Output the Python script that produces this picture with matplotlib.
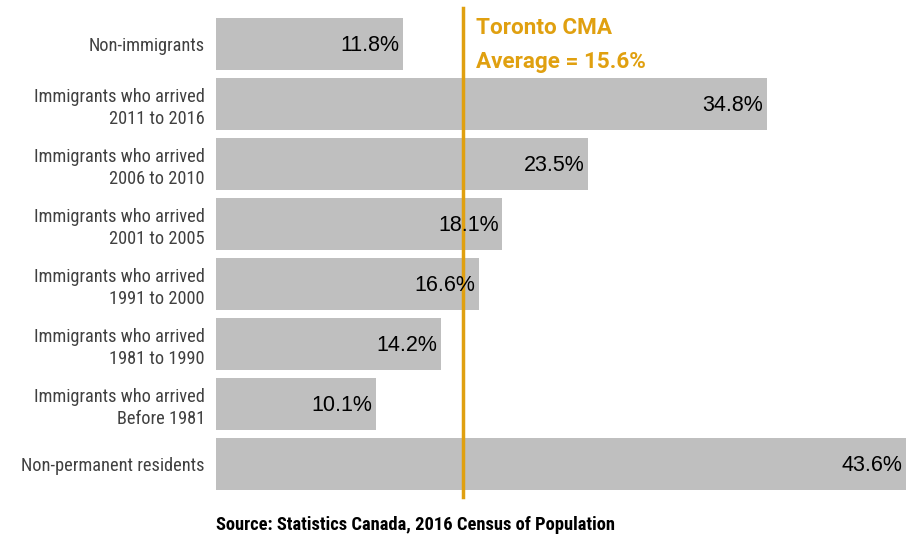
import matplotlib.pyplot as plt

# data
categories = ['Non-immigrants',
              'Immigrants who arrived\n2011 to 2016',
              'Immigrants who arrived\n2006 to 2010',
              'Immigrants who arrived\n2001 to 2005',
              'Immigrants who arrived\n1991 to 2000',
              'Immigrants who arrived\n1981 to 1990',
              'Immigrants who arrived\nBefore 1981',
              'Non-permanent residents']
values = [11.8, 34.8, 23.5, 18.1, 16.6, 14.2, 10.1, 43.6]
average = 15.6

label_font = ['Roboto Condensed', 'DejaVu Sans']
value_font = ['Liberation Sans', 'DejaVu Sans']
note_font = ['Roboto', 'DejaVu Sans']
gold = '#E0A010'

fig = plt.figure(figsize=(9.21, 5.35), dpi=100)
ax = fig.add_axes([216 / 921, 1 - 494 / 535, 690 / 921, 480 / 535])

ypos = list(range(len(values)))
ax.barh(ypos, values, height=0.87, color='#BFBFBF')
ax.set_xlim(0, 43.6)
ax.set_ylim(7.5, -0.5)

# value labels at the end of each bar
for y, v in zip(ypos, values):
    ax.text(v - 0.22, y + 0.02, f'{v}%', ha='right', va='center', fontsize=15.5,
            family=value_font, color='black')

# category labels
ax.set_yticks(ypos)
ax.set_yticklabels(categories, family=label_font, fontsize=13.2, color='#404040',
                   linespacing=1.3)
ax.tick_params(axis='y', length=0, pad=8)
ax.set_xticks([])
for s in ax.spines.values():
    s.set_visible(False)

# average line
ax.plot([average, average], [-0.6, 7.55], color=gold, lw=2.5, clip_on=False)
ax.text(average + 0.8, -0.26, 'Toronto CMA', color=gold, fontsize=16.2,
        fontweight='bold', family=note_font, va='center', ha='left')
ax.text(average + 0.8, 0.3, 'Average = 15.6%', color=gold, fontsize=16.2,
        fontweight='bold', family=note_font, va='center', ha='left')

fig.text(216 / 921, 1 - 525 / 535, 'Source: Statistics Canada, 2016 Census of Population',
         fontsize=13.3, fontweight='bold', family=label_font, color='black',
         ha='left', va='center')

plt.savefig('out.png', dpi=100)
